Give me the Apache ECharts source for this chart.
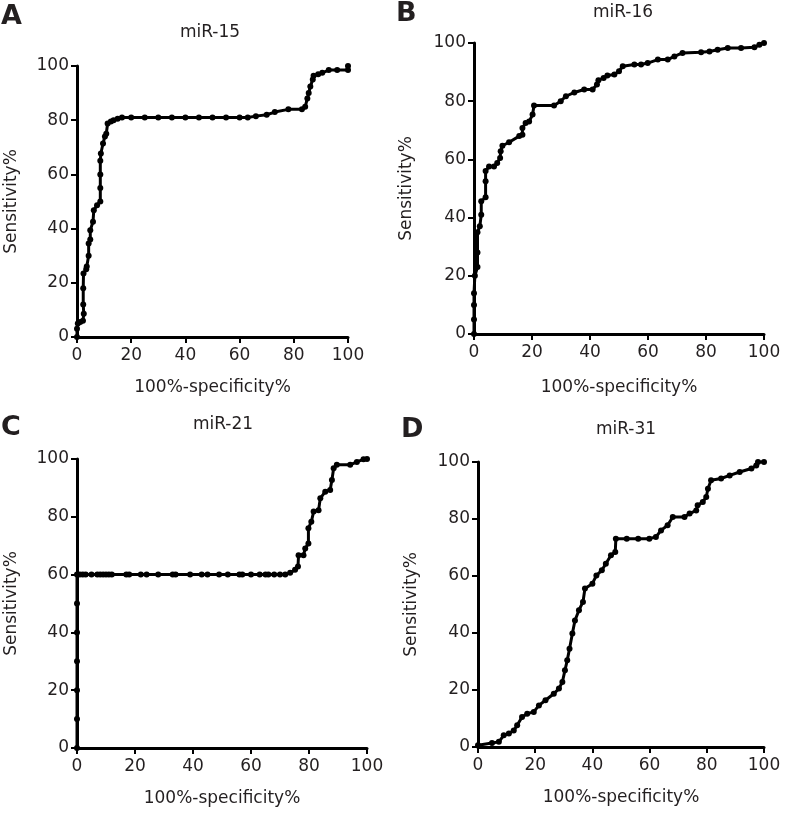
<!DOCTYPE html>
<html>
<head>
<meta charset="utf-8">
<script src="https://cdn.jsdelivr.net/npm/echarts@6/dist/echarts.min.js"></script>
<style>
html,body{margin:0;padding:0;background:#fff;}
#main{width:786px;height:813px;}
</style>
</head>
<body>
<div id="main"></div>
<script>
// Panel titles and letters
const panelTitles = ['miR-15', 'miR-16', 'miR-21', 'miR-31'];
const panelLetters = ['A', 'B', 'C', 'D'];
const xAxisName = '100%-specificity%';
const yAxisName = 'Sensitivity%';
const tickValues = [0, 20, 40, 60, 80, 100];

// ROC curves: [100%-specificity%, sensitivity%]
const miR15 = [[0,0],[0,3],[0.3,5],[1.2,5.5],[2.2,6],[2.5,8.6],[2.3,12],[2.3,18],[2.4,23.4],[3.4,25],[3.6,26],[4.3,30],[4.3,34.5],[4.9,36],[4.9,39.4],[5.9,42.5],[6.2,46.8],[7.4,48.6],[8.6,50],[8.6,55],[8.6,60],[8.6,65],[8.8,67.7],[9.6,71.4],[10.3,74],[10.8,75],[11.3,78.8],[12.5,79.5],[13.5,80],[15,80.5],[16.6,81],[20,81],[25,81],[30,81],[35,81],[40,81],[45,81],[50,81],[55,81],[60,81],[63,81],[66,81.5],[70,82],[73,83],[78,84],[83,84],[84.2,85],[85,88],[85.5,90],[86.1,92.4],[87,95],[87.3,96.4],[89,97],[90.5,97.5],[92.9,98.5],[96,98.5],[100,98.5],[100,100]];

const miR16 = [[0,0],[0,5],[0,10],[0,14],[0.3,20],[1.2,23],[1.2,28],[1.2,35],[2,37],[2.5,41],[2.5,45.6],[4,47],[4,52.5],[4,56],[5.2,57.6],[6.9,57.6],[8,58.8],[9,60.5],[9.2,62.8],[9.8,64.7],[12.1,65.9],[15.6,68],[16.7,68.5],[16.7,70.8],[17.8,72.5],[19,73],[20.2,75.4],[20.7,78.5],[27.6,78.5],[29.9,80],[31.7,81.7],[34.6,83],[38,84],[40.9,84],[42.4,85.7],[42.9,87.2],[44.7,88],[46,88.8],[48.4,89.2],[50,90.3],[51.3,92],[55.3,92.6],[57.6,92.6],[59.9,93.1],[63.4,94.3],[66.8,94.3],[69.1,95.4],[71.9,96.6],[78.3,96.8],[81.2,97.1],[84,97.7],[87.5,98.3],[92.1,98.3],[96.7,98.5],[98.4,99.4],[100,100]];

const miR21 = [[0,0],[0,10],[0,20],[0,30],[0,40],[0,50],[0,60],[1,60],[2,60],[3,60],[5,60],[7,60],[8,60],[9,60],[10,60],[11,60],[12,60],[17,60],[18,60],[22,60],[24,60],[28,60],[33,60],[34,60],[39,60],[43,60],[45,60],[49,60],[52,60],[56,60],[57,60],[60,60],[63,60],[65,60],[66,60],[68,60],[70,60],[71.8,60],[73.5,60.6],[75.2,61.7],[76.2,62.8],[76.4,66.7],[78.1,66.7],[78.7,69],[79.8,70.8],[79.8,76],[80.8,78.3],[81.6,81.8],[83.3,82.3],[83.9,86.4],[85.6,88.7],[87.3,89.3],[87.9,92.7],[88.5,96.8],[89.6,98],[94.2,98],[96.5,99],[98.8,99.9],[100,100]];

const miR31 = [[0,0.6],[4.9,1.4],[7.3,1.8],[9,4.1],[10.8,4.7],[12.5,5.8],[13.7,7.6],[15.4,10.5],[17.2,11.7],[19.5,12.3],[21.3,14.6],[23.6,16.4],[26.5,18.7],[28.3,20.5],[29.5,22.8],[30.4,26.9],[31.2,30.4],[32,34.5],[33,39.8],[33.9,44.4],[35.3,48],[36.7,50.9],[37.4,55.6],[40,57.3],[41.4,60.2],[43.3,62],[44.7,64.3],[46.5,67.3],[48,68.4],[48.2,73.1],[52,73.1],[56,73.1],[59.9,73.1],[62.2,73.7],[64,76],[66.3,77.8],[68.1,80.7],[72.2,80.7],[74,81.9],[76.3,83],[76.8,84.8],[78.6,86],[79.8,87.7],[80.4,90.6],[81.5,93.6],[85,94.2],[88,95.3],[91.5,96.5],[95.6,97.7],[97.3,98.8],[97.9,100],[100,100]];

const curves = [miR15, miR16, miR21, miR31];

const grids = [
  {left: 77, top: 66, width: 271, height: 271},
  {left: 474, top: 43, width: 290, height: 291},
  {left: 77, top: 459, width: 290, height: 289},
  {left: 478, top: 462, width: 286, height: 285}
];
const titlePos = [[210, 33], [623, 13], [223, 425], [626, 430]];
const letterPos = [[1, 17], [396, 14], [1, 428], [401, 430]];

const textColor = '#231f20';
const fontFamily = 'DejaVu Sans';

const xAxes = grids.map((g, i) => ({
  type: 'value', gridIndex: i, min: 0, max: 100, interval: 20,
  name: xAxisName, nameLocation: 'middle', nameGap: i === 1 ? 45 : 42,
  nameTextStyle: {fontFamily, fontSize: 17, color: textColor},
  axisLine: {show: true, onZero: false, lineStyle: {color: '#000', width: 3}},
  axisTick: {show: true, length: 6, lineStyle: {color: '#000', width: 2}},
  axisLabel: {fontFamily, fontSize: 17, color: textColor, margin: 10},
  splitLine: {show: false}
}));
const yAxes = grids.map((g, i) => ({
  type: 'value', gridIndex: i, min: 0, max: 100, interval: 20,
  name: yAxisName, nameLocation: 'middle', nameGap: [57, 59, 57, 58][i],
  nameTextStyle: {fontFamily, fontSize: 17, color: textColor},
  axisLine: {show: true, onZero: false, lineStyle: {color: '#000', width: 3}},
  axisTick: {show: true, length: 6, lineStyle: {color: '#000', width: 2}},
  axisLabel: {fontFamily, fontSize: 17, color: textColor, margin: 8},
  splitLine: {show: false}
}));

const series = curves.map((c, i) => ({
  type: 'line', xAxisIndex: i, yAxisIndex: i, data: c,
  symbol: 'circle', symbolSize: 6, showAllSymbol: true,
  lineStyle: {color: '#000', width: 3},
  itemStyle: {color: '#000'},
  animation: false, clip: false
}));

const graphics = [];
panelTitles.forEach((t, i) => {
  graphics.push({type: 'text', x: titlePos[i][0], y: titlePos[i][1],
    style: {text: t, fontFamily, fontSize: 17, fill: textColor, textAlign: 'center', textVerticalAlign: 'middle'}});
});
panelLetters.forEach((t, i) => {
  graphics.push({type: 'text', x: letterPos[i][0], y: letterPos[i][1],
    style: {text: t, fontFamily, fontSize: 27, fontWeight: 'bold', fill: textColor, textAlign: 'left', textVerticalAlign: 'middle'}});
});

const chart = echarts.init(document.getElementById('main'), null, {renderer: 'canvas'});
chart.setOption({
  backgroundColor: '#fff',
  animation: false,
  grid: grids,
  xAxis: xAxes,
  yAxis: yAxes,
  series: series,
  graphic: graphics
});
</script>
</body>
</html>
